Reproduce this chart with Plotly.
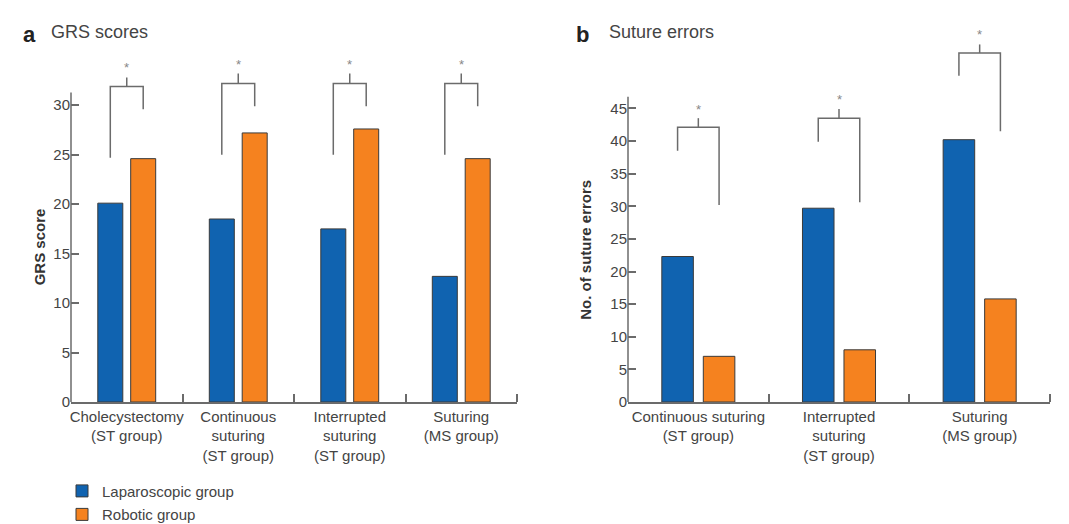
import plotly.graph_objects as go

# ---------------- data ----------------
grs_categories = ["Cholecystectomy<br>(ST group)", "Continuous<br>suturing<br>(ST group)",
                  "Interrupted<br>suturing<br>(ST group)", "Suturing<br>(MS group)"]
grs_laparoscopic = [20.1, 18.5, 17.5, 12.7]
grs_robotic = [24.6, 27.2, 27.6, 24.6]

err_categories = ["Continuous suturing<br>(ST group)", "Interrupted<br>suturing<br>(ST group)",
                  "Suturing<br>(MS group)"]
err_laparoscopic = [22.3, 29.7, 40.2]
err_robotic = [7.0, 8.0, 15.8]

grs_ticks = [0, 5, 10, 15, 20, 25, 30]
err_ticks = [0, 5, 10, 15, 20, 25, 30, 35, 40, 45]

# significance bracket levels (data units)
grs_br_left = [24.7, 25.0, 25.0, 25.0]
grs_br_top = [31.9, 32.2, 32.2, 32.2]
grs_br_right = [29.6, 29.9, 29.9, 29.9]
grs_br_tick = [32.8, 33.2, 33.2, 33.2]
grs_br_star = [34.0, 34.3, 34.3, 34.3]

err_br_left = [38.5, 39.9, 50.0]
err_br_top = [42.1, 43.5, 53.5]
err_br_right = [30.2, 30.6, 41.5]
err_br_tick = [43.5, 44.9, 54.8]
err_br_star = [45.2, 46.6, 56.7]

# ---------------- style ----------------
BLUE = "#1063B0"
ORANGE = "#F5821F"
EDGE = "#3a3a3a"
AX = "#6b6b6b"
TXT = "#444444"
FONT = "Liberation Sans"

W, H = 1069, 524
TOP_PX, ZERO_PX = 25, 402.3
PLOT_H = ZERO_PX - TOP_PX

A_L, A_R = 71, 517
B_L, B_R = 628, 1050
A_PXU, B_PXU = 9.9, 6.53
A_GAP, A_GGAP = 0.41, 0.24


def ypaper(px):
    return (ZERO_PX - px) / PLOT_H


fig = go.Figure()

xa = list(range(len(grs_categories)))
xb = list(range(len(err_categories)))

fig.add_trace(go.Bar(x=xa, y=grs_laparoscopic, name="Laparoscopic group", marker_color=BLUE,
                     marker_line=dict(color=EDGE, width=1), xaxis="x", yaxis="y",
                     legendgroup="lap", offsetgroup="lap"))
fig.add_trace(go.Bar(x=xa, y=grs_robotic, name="Robotic group", marker_color=ORANGE,
                     marker_line=dict(color=EDGE, width=1), xaxis="x", yaxis="y",
                     legendgroup="rob", offsetgroup="rob"))
fig.add_trace(go.Bar(x=xb, y=err_laparoscopic, name="Laparoscopic group", marker_color=BLUE,
                     marker_line=dict(color=EDGE, width=1), xaxis="x2", yaxis="y2",
                     legendgroup="lap", offsetgroup="lap", showlegend=False))
fig.add_trace(go.Bar(x=xb, y=err_robotic, name="Robotic group", marker_color=ORANGE,
                     marker_line=dict(color=EDGE, width=1), xaxis="x2", yaxis="y2",
                     legendgroup="rob", offsetgroup="rob", showlegend=False))

shapes = []
annotations = []


def brackets(xref, yref, n, gap, left, top, right, tick, star):
    off = (1 - gap) / 4
    for i in range(n):
        path = (f"M {i - off},{left[i]} L {i - off},{top[i]} L {i + off},{top[i]} "
                f"L {i + off},{right[i]}")
        shapes.append(dict(type="path", path=path, xref=xref, yref=yref,
                           line=dict(color=AX, width=1.5)))
        shapes.append(dict(type="line", xref=xref, yref=yref, x0=i, x1=i, y0=top[i], y1=tick[i],
                           line=dict(color=AX, width=1.5)))
        annotations.append(dict(x=i, y=star[i], xref=xref, yref=yref, text="*", showarrow=False,
                                font=dict(family=FONT, size=13, color="#888888"), yshift=-2))


brackets("x", "y", len(grs_categories), A_GAP, grs_br_left, grs_br_top, grs_br_right,
         grs_br_tick, grs_br_star)
brackets("x2", "y2", len(err_categories), A_GAP, err_br_left, err_br_top, err_br_right,
         err_br_tick, err_br_star)

# y-axis lines (stop just above top tick)
shapes.append(dict(type="line", xref="paper", yref="y", x0=A_L / W, x1=A_L / W, y0=0, y1=31.3,
                   line=dict(color=AX, width=1.5)))
shapes.append(dict(type="line", xref="paper", yref="y2", x0=B_L / W, x1=B_L / W, y0=0, y1=46.8,
                   line=dict(color=AX, width=1.5)))

# panel titles
annotations += [
    dict(x=21 / W, y=ypaper(20), xref="paper", yref="paper", text="<b>a</b>", showarrow=False,
         xanchor="left", font=dict(family=FONT, size=22, color="#222222")),
    dict(x=49 / W, y=ypaper(20), xref="paper", yref="paper", text="GRS scores", showarrow=False,
         xanchor="left", font=dict(family=FONT, size=18, color=TXT)),
    dict(x=574 / W, y=ypaper(20), xref="paper", yref="paper", text="<b>b</b>", showarrow=False,
         xanchor="left", font=dict(family=FONT, size=22, color="#222222")),
    dict(x=607 / W, y=ypaper(20), xref="paper", yref="paper", text="Suture errors",
         showarrow=False, xanchor="left", font=dict(family=FONT, size=18, color=TXT)),
    dict(x=29 / W, y=ypaper(247), xref="paper", yref="paper", text="<b>GRS score</b>",
         showarrow=False, textangle=-90, font=dict(family=FONT, size=15, color="#333333")),
    dict(x=586 / W, y=ypaper(250), xref="paper", yref="paper", text="<b>No. of suture errors</b>",
         showarrow=False, textangle=-90, font=dict(family=FONT, size=15, color="#333333")),
]

tickfont = dict(family=FONT, size=15, color=TXT)


def xaxis_cfg(cats, dom):
    n = len(cats)
    return dict(domain=dom, range=[-0.5, n - 0.5], tickmode="array", tickvals=list(range(n)),
                ticktext=cats, ticks="", showline=True, linecolor=AX, linewidth=1.5,
                showgrid=False, zeroline=False, tickfont=tickfont, fixedrange=True,
                minor=dict(tickmode="array", tickvals=[k + 0.5 for k in range(n)], ticks="inside",
                           ticklen=8, tickcolor=AX, tickwidth=1.5, showgrid=False))


def yaxis_cfg(xanchor, ticks, pxu):
    return dict(anchor=xanchor, domain=[0, 1], range=[0, PLOT_H / pxu], tickmode="array",
                tickvals=ticks, ticks="inside", ticklen=8, tickcolor=AX, tickwidth=1.5,
                showline=False, showgrid=False, zeroline=False, tickfont=tickfont, fixedrange=True)


fig.update_layout(
    width=W, height=H,
    margin=dict(l=0, r=0, t=TOP_PX, b=H - ZERO_PX, autoexpand=False),
    paper_bgcolor="white", plot_bgcolor="white",
    barmode="group",
    xaxis=xaxis_cfg(grs_categories, [A_L / W, A_R / W]),
    xaxis2=xaxis_cfg(err_categories, [B_L / W, B_R / W]),
    yaxis=yaxis_cfg("x", grs_ticks, A_PXU),
    yaxis2=yaxis_cfg("x2", err_ticks, B_PXU),
    bargap=A_GAP, bargroupgap=A_GGAP,
    shapes=shapes, annotations=annotations,
    showlegend=True,
    legend=dict(x=62 / W, y=ypaper(475), xanchor="left", yanchor="top", orientation="v",
                font=dict(family=FONT, size=15, color=TXT), tracegroupgap=1,
                bgcolor="rgba(0,0,0,0)"),
    font=dict(family=FONT),
)

fig.write_html("out.html")
